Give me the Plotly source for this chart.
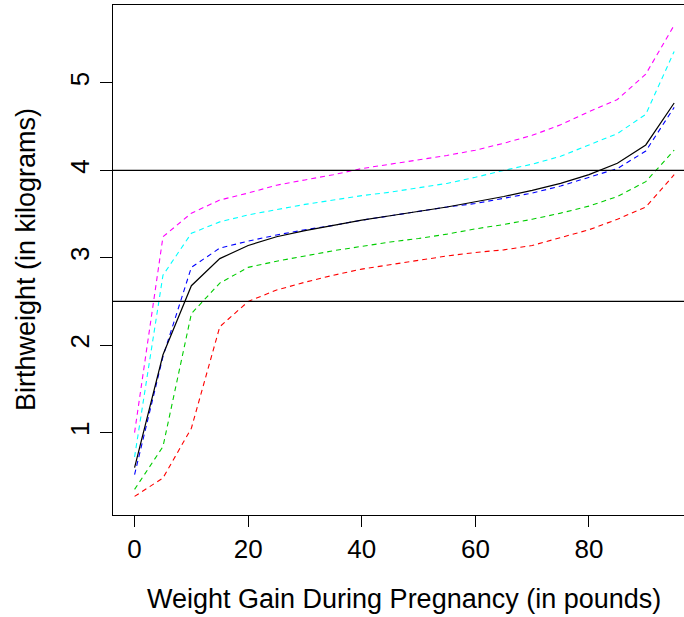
import plotly.graph_objects as go

weight_gain = [0, 5, 10, 15, 20, 25, 30, 35, 40, 45, 50, 55, 60, 65, 70, 75, 80, 85, 90, 95]

bw_black = [0.60, 1.89, 2.68, 2.99, 3.14, 3.24, 3.31, 3.37, 3.43, 3.48, 3.53, 3.58, 3.64, 3.70, 3.77, 3.85, 3.95, 4.08, 4.29, 4.77]
bw_blue = [0.52, 1.87, 2.89, 3.11, 3.19, 3.26, 3.32, 3.37, 3.43, 3.48, 3.53, 3.58, 3.62, 3.68, 3.74, 3.82, 3.92, 4.02, 4.22, 4.72]
bw_magenta = [1.00, 3.24, 3.51, 3.66, 3.74, 3.83, 3.89, 3.95, 4.02, 4.07, 4.12, 4.17, 4.23, 4.31, 4.40, 4.52, 4.67, 4.81, 5.10, 5.66]
bw_cyan = [0.72, 2.80, 3.28, 3.41, 3.49, 3.55, 3.61, 3.66, 3.71, 3.75, 3.80, 3.85, 3.92, 4.00, 4.07, 4.16, 4.29, 4.42, 4.64, 5.36]
bw_green = [0.35, 0.84, 2.36, 2.71, 2.89, 2.96, 3.02, 3.08, 3.13, 3.18, 3.22, 3.27, 3.33, 3.38, 3.44, 3.51, 3.59, 3.70, 3.87, 4.23]
bw_red = [0.27, 0.48, 1.05, 2.21, 2.50, 2.63, 2.72, 2.80, 2.87, 2.92, 2.97, 3.02, 3.06, 3.09, 3.14, 3.23, 3.32, 3.44, 3.58, 3.95]

ref_lines = [4.0, 2.5]
x_ticks = [0, 20, 40, 60, 80]
y_ticks = [1, 2, 3, 4, 5]

FONT = "Liberation Sans, Arial, Helvetica, sans-serif"

fig = go.Figure()
series = [
    (bw_red, "#FF0000", "5px,4px", 1.1),
    (bw_green, "#00CD00", "5px,4px", 1.1),
    (bw_cyan, "#00FFFF", "5px,4px", 1.1),
    (bw_magenta, "#FF00FF", "5px,4px", 1.1),
    (bw_blue, "#0000FF", "5px,4px", 1.1),
    (bw_black, "#000000", "solid", 1.2),
]
for ys, col, dash, w in series:
    fig.add_trace(go.Scatter(x=weight_gain, y=ys, mode="lines",
                             line=dict(color=col, dash=dash, width=w),
                             showlegend=False, hoverinfo="skip"))

for v in ref_lines:
    fig.add_shape(type="line", xref="paper", x0=0, x1=1, yref="y", y0=v, y1=v,
                  line=dict(color="black", width=1.2))

fig.add_annotation(text="Weight Gain During Pregnancy (in pounds)", xref="x", x=47.4,
                   yref="paper", y=0, yanchor="middle", yshift=-84, showarrow=False,
                   font=dict(family=FONT, size=27, color="black"))
fig.add_annotation(text="Birthweight (in kilograms)", xref="paper", x=0, xanchor="center",
                   xshift=-87, yref="y", y=2.974, yanchor="middle", textangle=-90,
                   showarrow=False, font=dict(family=FONT, size=27, color="black"))

fig.update_layout(
    template="none",
    width=684, height=617,
    margin=dict(l=113, r=0, t=5, b=102, pad=0),
    paper_bgcolor="white", plot_bgcolor="white",
    font=dict(family=FONT, size=26, color="black"),
    xaxis=dict(range=[-3.8, 96.73], tickvals=x_ticks, ticks="outside", ticklen=11,
               tickwidth=1, tickcolor="black", showgrid=False, zeroline=False,
               showline=True, linecolor="black", linewidth=1.2, mirror=True,
               automargin=False, tickfont=dict(size=26)),
    yaxis=dict(range=[0.057, 5.891], tickvals=y_ticks, ticks="outside", ticklen=12,
               tickwidth=1, tickcolor="black", showgrid=False, zeroline=False,
               showline=True, linecolor="black", linewidth=1.2, mirror=False,
               automargin=False, tickangle=-90, tickfont=dict(size=26)),
)

fig.write_html("out.html", config={"displayModeBar": False, "staticPlot": True},
               post_script="document.body.style.margin='0';document.body.style.padding='0';")
